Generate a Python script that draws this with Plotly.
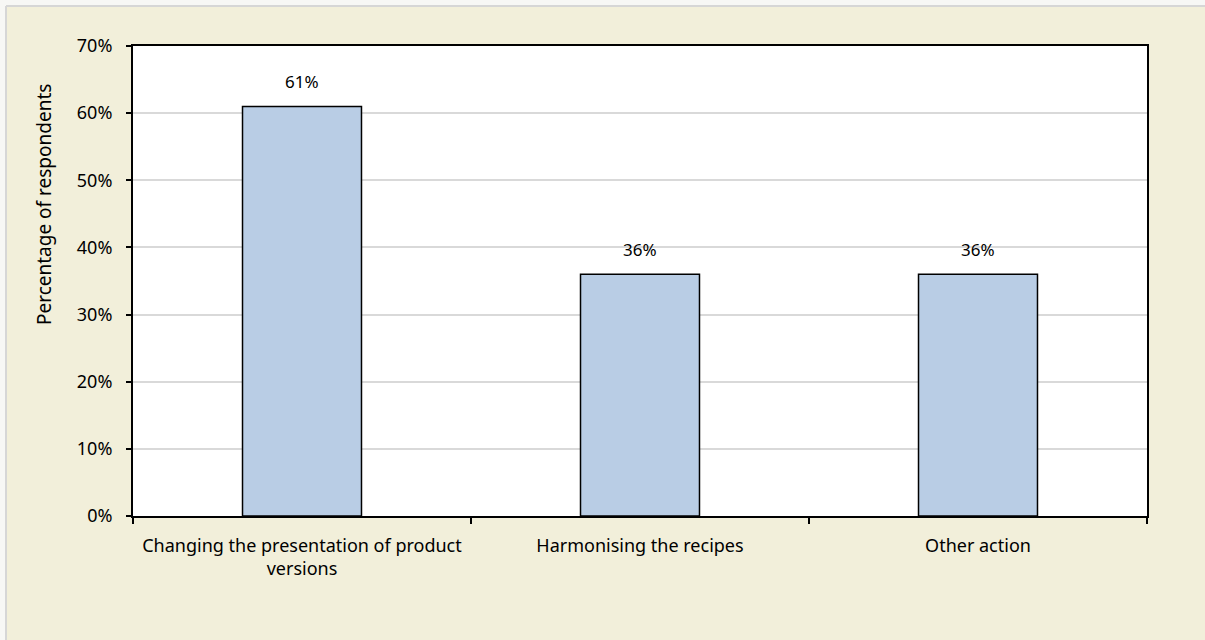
import plotly.graph_objects as go

categories = ["Changing the presentation of product<br>versions",
              "Harmonising the recipes",
              "Other action"]
values = [61, 36, 36]
value_labels = ["61%", "36%", "36%"]
y_ticks = [0, 10, 20, 30, 40, 50, 60, 70]
y_tick_labels = ["0%", "10%", "20%", "30%", "40%", "50%", "60%", "70%"]
y_title = "Percentage of respondents"

W, H = 1205, 640
L, R, T, B = 133, 58, 46, 124
pw, ph = W - L - R, H - T - B

def px_x(x):
    return (x - L) / pw

def px_y(y):
    return (H - B - y) / ph

FONT = "Noto Sans"
BEIGE = "#F2EFDA"
EDGE = "#F7F7F5"

fig = go.Figure()
fig.add_trace(go.Bar(
    x=categories, y=values,
    marker=dict(color="#B9CDE5", line=dict(color="#000000", width=1.5)),
    width=0.352, hoverinfo="skip",
))

# value labels above each bar
for cat, val, lab in zip(categories, values, value_labels):
    fig.add_annotation(x=cat, y=val, text=lab, showarrow=False,
                       yanchor="middle", yshift=25,
                       font=dict(family=FONT, size=17, color="#000000"))

# vertical axis title, set in the upper part of the left margin
fig.add_annotation(xref="paper", yref="paper", x=px_x(44), y=px_y(205),
                   text=y_title, textangle=-90, showarrow=False,
                   xanchor="center", yanchor="middle",
                   font=dict(family=FONT, size=19, color="#000000"))

# pale margin along top and left edges of the frame
fig.add_shape(type="rect", xref="paper", yref="paper",
              x0=px_x(-5), x1=px_x(W + 5), y0=px_y(6), y1=px_y(-5),
              fillcolor=EDGE, line=dict(width=0), layer="below")
fig.add_shape(type="rect", xref="paper", yref="paper",
              x0=px_x(-5), x1=px_x(6), y0=px_y(H + 5), y1=px_y(-5),
              fillcolor=EDGE, line=dict(width=0), layer="below")
fig.add_shape(type="line", xref="paper", yref="paper",
              x0=px_x(6), x1=px_x(W + 5), y0=px_y(6), y1=px_y(6),
              line=dict(color="#D6D6D6", width=2), layer="below")
fig.add_shape(type="line", xref="paper", yref="paper",
              x0=px_x(6), x1=px_x(6), y0=px_y(6), y1=px_y(H + 5),
              line=dict(color="#D6D6D6", width=2), layer="below")

fig.update_layout(
    width=W, height=H,
    margin=dict(l=L, r=R, t=T, b=B),
    paper_bgcolor=BEIGE,
    plot_bgcolor="#FFFFFF",
    showlegend=False,
    font=dict(family=FONT, size=17, color="#000000"),
    xaxis=dict(
        showline=True, linecolor="#000000", linewidth=2, mirror=True,
        ticks="outside", tickson="boundaries", ticklen=6, tickwidth=1.5,
        tickcolor="#000000", showgrid=False,
        ticklabelstandoff=12,
        tickfont=dict(family=FONT, size=18),
    ),
    yaxis=dict(
        range=[0, 70], tickvals=y_ticks, ticktext=y_tick_labels,
        showline=True, linecolor="#000000", linewidth=2, mirror=True,
        ticks="outside", ticklen=5, tickwidth=1.5, tickcolor="#000000",
        showgrid=True, gridcolor="#D9D9D9", gridwidth=1.5,
        zeroline=False, ticklabelstandoff=10,
        tickfont=dict(family=FONT, size=18),
    ),
)

fig.write_html("out.html")
